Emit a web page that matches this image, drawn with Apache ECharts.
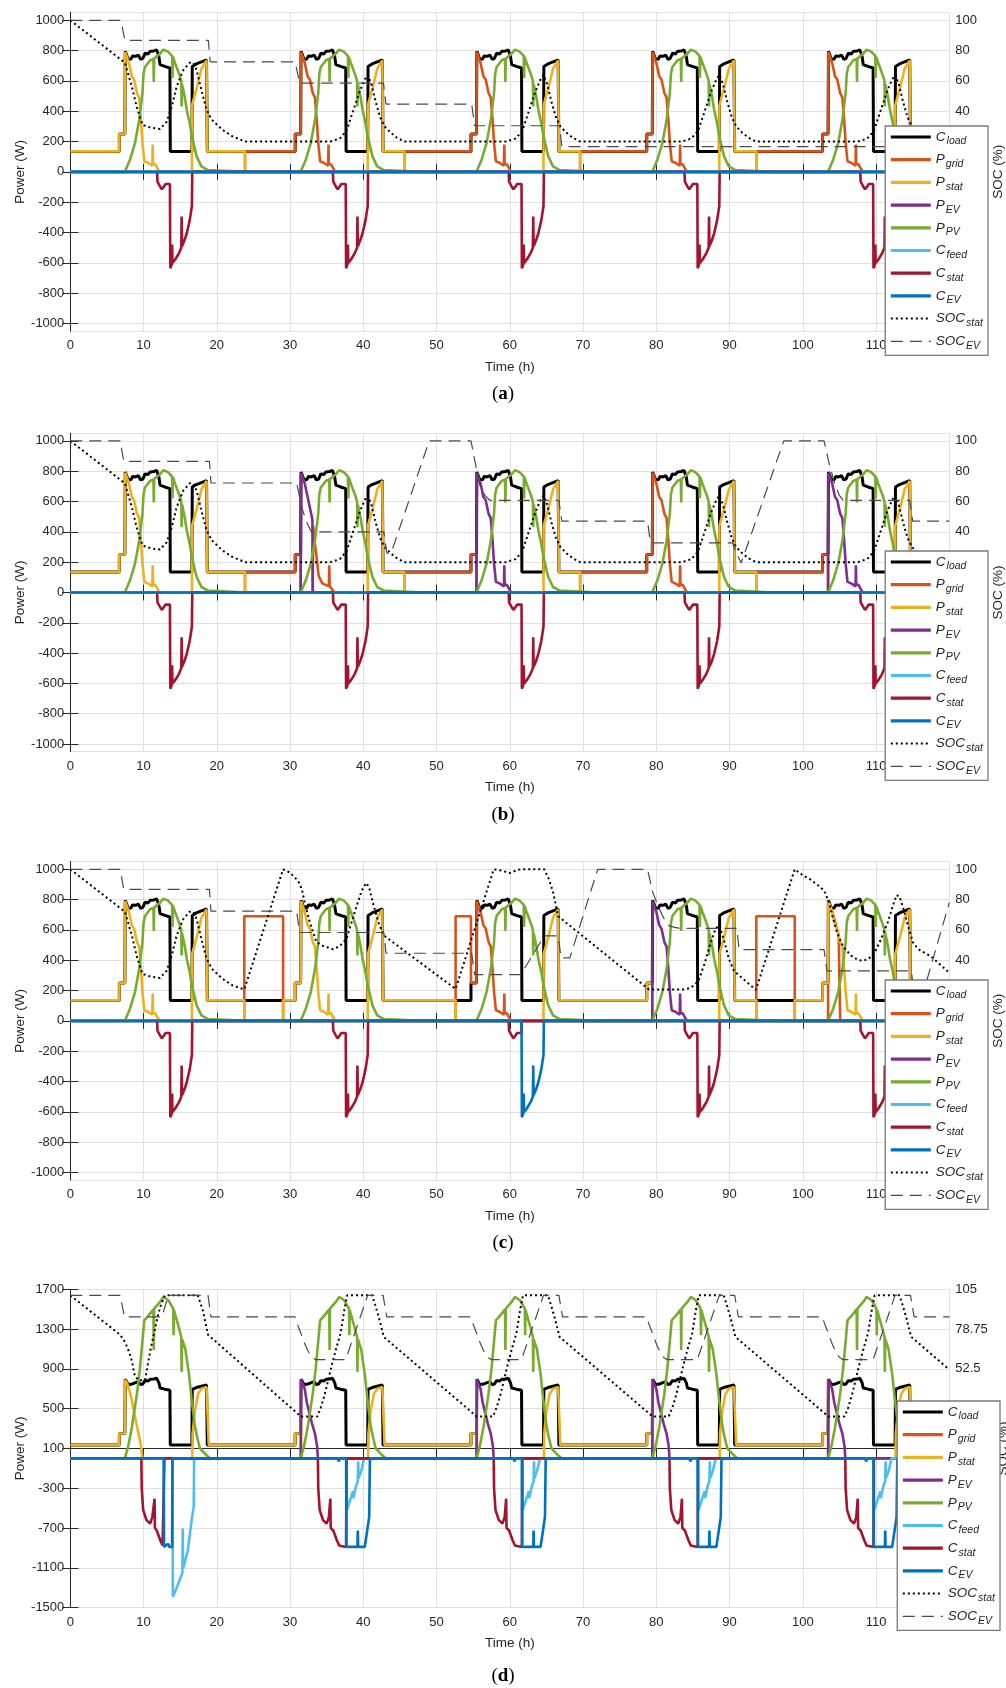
<!DOCTYPE html>
<html>
<head>
<meta charset="utf-8">
<script src="https://cdn.jsdelivr.net/npm/echarts@6/dist/echarts.min.js"></script>
<style>
  html, body { margin: 0; padding: 0; background: #fff; }
  #chart { width: 1006px; height: 1688px; }
</style>
</head>
<body>
<div id="chart"></div>
<script>
// ---------------- data ----------------
const seriesNames = ['C_load', 'P_grid', 'P_stat', 'P_EV', 'P_PV', 'C_feed', 'C_stat', 'C_EV', 'SOC_stat', 'SOC_EV'];
const panelLetters = ['a', 'b', 'c', 'd'];
const DAYS = [0, 1, 2, 3, 4];
const NIGHT_LOAD = 135;   // W
const GRID_CHARGE = 690;  // W, night charging in (c)

// one-day pieces, [hour of day, W]
const loadDay = [[0,135],[6.7,135],[6.7,250],[7.45,250],[7.5,795],[7.7,770],[7.9,742],[8.3,745],[8.5,765],[8.9,762],[9.3,770],[9.6,742],[9.9,748],[10.2,782],[10.6,778],[10.9,795],[11.4,798],[11.8,805],[12.05,800],[12.1,760],[12.25,708],[12.9,696],[13.6,685],[13.65,135],[16.6,135],[16.65,695],[17.2,712],[17.9,725],[18.6,738],[18.7,135],[24,135]];
const pvDayAC = [[0,0],[7.45,0],[8.15,80],[8.83,190],[9.4,340],[9.85,520],[10.0,648],[10.2,692],[10.9,736],[11.35,745],[11.4,593],[11.45,748],[12.25,780],[12.7,806],[13.3,795],[13.9,765],[13.95,620],[14.0,760],[14.3,718],[14.9,640],[15.15,600],[15.2,432],[15.25,580],[15.6,500],[15.9,410],[16.3,320],[16.6,234],[17.25,102],[17.9,36],[18.8,12],[19.0,0],[24,0]];
const pvDayD = [[0,0],[7.45,0],[7.9,120],[8.4,310],[9.1,651],[9.5,900],[9.9,1221],[10.1,1388],[10.7,1438],[11.35,1500],[11.4,1090],[11.45,1505],[11.6,1522],[12.25,1573],[12.7,1623],[13.4,1590],[14.05,1506],[14.1,1237],[14.15,1490],[14.8,1321],[15.15,1221],[15.2,869],[15.25,1200],[15.7,1100],[16.2,850],[16.55,600],[17.0,330],[17.3,220],[17.7,100],[18.4,45],[19.1,0],[24,0]];

const dawnStep = [[6.7,135],[6.7,250],[7.45,250]];
const dawnOff = [[7.45,250],[7.45,0]];
const morningAC = [[7.45,250],[7.5,790],[8.0,720],[8.4,630],[8.7,610],[9.1,520],[9.4,490],[9.65,340],[9.85,190],[10.1,70],[10.6,60],[11.2,40],[11.25,180],[11.3,50],[11.6,50],[12.0,15],[12.2,0]];
const eveningAC = [[16.6,0],[16.62,440],[17.3,560],[17.9,680],[18.6,735],[18.7,135]];
const storeHeadAC = [[11.85,0],[11.9,-65],[12.3,-100],[12.5,-115],[12.8,-95],[13.0,-80],[13.6,-80],[13.6,0]];
const storeTailAC = [[13.6,0],[13.65,-636],[13.85,-610],[13.9,-480],[13.95,-600],[14.3,-580],[14.8,-540],[15.15,-500],[15.2,-295],[15.25,-490],[15.6,-450],[15.9,-405],[16.3,-320],[16.6,-225],[16.65,0]];
const evHeadB = [[7.45,0],[7.5,790],[8.0,720],[8.4,630],[8.7,560],[9.05,480],[9.1,0]];
const gridTailB = [[9.1,0],[9.15,440],[9.4,320],[9.7,200],[9.9,110],[10.4,60],[11.3,40],[11.35,180],[11.4,45],[11.8,15],[12.1,0]];
const gridSpikeC = [[7.45,0],[7.45,790],[7.9,740],[8.4,655],[8.9,565],[9.1,0]];
const preDawnGridC = [[52.6,0],[52.6,690],[54.7,690],[54.7,250],[55.45,250]];

const morningD1 = [[7.45,250],[7.5,790],[7.8,750],[8.3,620],[8.75,450],[9.2,285],[9.6,150],[9.8,35],[9.9,0]];
const dawnSpikeD = [[6.7,135],[6.7,250],[7.45,250],[7.45,790],[7.55,790],[7.55,0]];
const morningEvD = [[7.45,0],[7.5,790],[7.6,785],[8.0,700],[8.3,560],[8.6,470],[9.0,350],[9.4,250],[9.7,120],[9.8,0]];
const eveningD = [[16.65,0],[16.7,250],[17.0,480],[17.45,650],[17.9,700],[18.6,718],[18.85,725],[18.9,135]];
const storeD1 = [[9.7,0],[9.75,-300],[9.95,-520],[10.4,-620],[10.9,-655],[11.2,-590],[11.45,-600],[11.5,-405],[11.55,-700],[11.8,-725],[12.3,-825],[12.6,-875],[12.8,-890],[12.85,0]];
const storeD2 = [[9.8,0],[9.85,-300],[10.05,-520],[10.5,-620],[11.0,-655],[11.3,-590],[11.45,-600],[11.5,-405],[11.55,-700],[11.9,-725],[12.4,-825],[12.7,-875],[12.9,-890],[13.65,-890],[13.7,0]];
const evD1 = [[12.75,0],[12.8,-890],[13.1,-870],[13.2,-890],[13.4,-860],[13.5,-890],[13.9,-890],[13.95,0]];
const evD2 = [[12.5,0],[12.65,-30],[12.8,0],[13.65,0],[13.7,-890],[15.2,-890],[15.25,-725],[15.3,-890],[16.2,-890],[16.4,-790],[16.8,-590],[16.9,0]];
const feedD1 = [[13.95,0],[14.0,-1390],[14.2,-1358],[14.65,-1275],[15.1,-1190],[15.3,-1150],[15.35,-706],[15.4,-1105],[15.6,-1100],[16.05,-925],[16.5,-656],[16.85,-480],[16.9,0]];
const feedD2 = [[13.7,0],[13.75,-520],[14.2,-420],[14.6,-330],[14.65,-400],[15.0,-280],[15.25,-230],[15.3,-30],[15.35,-200],[15.7,-130],[16.0,-40],[16.1,0]];

// hour at which the stationary battery runs empty each night, panels a/b
const nightEmptyAB = [23.85, 45.6, 69.6, 93.65, 117.6];

// state of charge, %
const socStatDay1AB = [[0,100],[7.45,72],[8.4,56.4],[9.05,43],[9.85,31],[11.1,29],[12.25,28.3],[13.15,33],[13.85,43],[14.5,56],[15.4,67],[16.3,72],[16.8,72],[17.25,67],[17.9,54],[18.6,41],[19.3,34.5],[20.7,28],[22.1,23.5],[23.85,20]];
const socStatDayAB = [[11.5,20],[12.8,22],[13.7,27],[14.6,40],[15.5,53],[16.2,61],[16.6,64],[17.1,58],[17.7,46],[18.3,36],[18.9,30],[19.7,26],[20.6,22.5],[21.6,20]];
const socEvA = [[0,100],[6.9,100],[7.45,86.8],[18.85,86.8],[19.1,72.5],[30.7,72.5],[31.3,58.6],[42.75,58.6],[43.1,44.7],[54.8,44.7],[55.2,30.4],[66.8,30.4],[67.1,16.7],[120,16.7]];
const socEvB = [[0,100],[6.8,100],[7.3,86.5],[19.0,86.5],[19.2,72.2],[30.9,72.2],[31.3,63],[31.8,53],[32.4,45],[32.9,40],[42.8,40],[43.2,26],[43.8,26],[49.0,100],[54.7,100],[55.3,85],[55.9,71],[56.6,64],[57.3,60.7],[66.7,60.7],[67.1,47],[78.8,47],[79.2,32.7],[90.4,32.7],[90.9,26],[91.6,19.5],[97.4,100],[102.9,100],[103.6,85],[104.4,71],[105.0,64],[105.5,60.7],[114.6,60.7],[115.0,47],[120,47]];
const socStatC = [[0,100],[7.45,72],[8.4,56.4],[9.05,43],[9.85,31],[11.1,29],[12.25,28.3],[13.15,33],[13.85,43],[14.5,56],[15.4,67],[16.3,72],[16.8,72],[17.25,67],[17.9,54],[18.6,41],[19.3,34.5],[20.7,28],[22.1,23.5],[23.75,20.7],[29.05,100],[30.0,97.8],[31.1,92.3],[31.6,87],[32.0,78],[32.7,65],[33.6,52],[34.5,49.4],[35.9,47.2],[36.8,49.4],[37.7,54],[38.4,65],[39.1,76],[39.8,86],[40.4,91],[40.8,88],[41.3,78],[42.2,63],[42.9,56],[52.6,21],[57.8,100],[59.0,99],[60.0,97.5],[61.0,99.5],[61.5,100],[64.7,100],[65.3,94],[65.9,85],[66.6,69],[79.0,20.7],[83.6,20.7],[84.5,21.5],[85.2,23.5],[85.8,27],[86.6,38],[87.4,51],[88.1,61],[88.6,63],[89.2,54],[89.9,41],[90.6,33],[91.3,30],[93.6,20.5],[98.9,100],[100.0,96],[101.0,93.4],[102.2,89],[102.9,86],[103.6,78],[104.1,68],[104.7,58],[105.5,49],[106.6,43],[107.4,40.5],[108.2,39.5],[109.0,41],[109.8,45],[110.6,53],[111.6,65],[112.3,76],[112.8,83],[113.2,82],[113.8,73],[114.4,62],[115.1,51],[116.0,46.5],[117.5,42.5],[120,31.7]];
const socEvC = [[0,100],[6.8,100],[7.3,86.8],[19.0,86.8],[19.2,72.4],[30.9,72.4],[31.3,58.3],[42.8,58.3],[43.1,44.6],[54.8,44.6],[55.2,30.5],[61.5,30.5],[64.7,56],[66.6,56],[67.0,41.6],[68.2,41.6],[72.0,100],[78.8,100],[79.5,85],[80.4,74],[81.2,66],[81.8,62.5],[83.2,61],[91.0,61],[91.3,47],[102.9,47],[103.3,33],[114.8,33],[115.2,19.5],[116.5,19.5],[120,78]];
const socStatD1 = [[0,101],[6.8,75],[7.5,70],[8.0,64],[8.4,58],[8.8,48],[9.3,45],[10.2,45],[10.9,64],[11.6,80],[12.25,93],[12.9,101],[17.4,101],[18.1,91],[18.8,75]];
const socStatDayD = [[7.5,21],[9.7,21],[10.2,27],[10.7,35],[11.1,43],[11.7,55],[12.3,66],[12.9,76],[13.4,91],[13.8,101],[17.2,101],[17.6,95],[18.1,86.8],[18.8,73.6]];
const socStatEndD = [[120,52]];
const socEvD1 = [[0,101],[6.8,101],[7.4,86.8],[12.5,86.8],[13.4,101],[18.8,101],[19.2,86.8]];
const socEvDayD = [[6.65,86.8],[7.0,82],[7.5,75.7],[8.0,69],[8.4,64.8],[9.0,60],[9.5,58.6],[13.6,58.6],[16.6,101],[18.7,101],[19.2,86.8]];
const socEvEndD = [[120,86.8]];

// ---------------- assembling ----------------
function at(day, block) { return block.map(p => [p[0] + 24 * day, p[1]]); }
function everyDay(block) { return [].concat(...DAYS.map(d => at(d, block))); }
function on(t, w) { return [[t, 0], [t, w]]; }
function off(t, w) { return [[t, w], [t, 0]]; }
function rect(t0, t1, w) { return [[t0, 0], [t0, w], [t1, w], [t1, 0]]; }
function fromZero(block) { return [[block[0][0], 0]].concat(block); }
function cat() { return [].concat(...arguments); }
const flat0 = [[0, 0], [120, 0]];
const storeAC = storeHeadAC.slice(0, -1).concat(storeTailAC.slice(1));

const loadAll = everyDay(loadDay);

// panel a
const statA = cat([[0, NIGHT_LOAD]], at(0, dawnStep), at(0, morningAC),
  ...DAYS.map(d => cat(at(d, eveningAC), off(nightEmptyAB[d], NIGHT_LOAD))));
const gridA = cat([[0, 0]],
  ...[1, 2, 3, 4].map(d => cat(on(nightEmptyAB[d - 1], NIGHT_LOAD), at(d, dawnStep), at(d, morningAC))),
  on(nightEmptyAB[4], NIGHT_LOAD), [[120, NIGHT_LOAD]]);
const socStatAB = cat(socStatDay1AB, ...[1, 2, 3, 4].map(d => at(d, socStatDayAB)), [[120, 20]]);

// panel b
const gridB = cat([[0, 0]],
  on(nightEmptyAB[0], NIGHT_LOAD), at(1, dawnStep), at(1, dawnOff), at(1, gridTailB),
  on(nightEmptyAB[1], NIGHT_LOAD), at(2, dawnStep), at(2, dawnOff),
  on(nightEmptyAB[2], NIGHT_LOAD), at(3, dawnStep), at(3, morningAC),
  on(nightEmptyAB[3], NIGHT_LOAD), at(4, dawnStep), at(4, dawnOff),
  on(nightEmptyAB[4], NIGHT_LOAD), [[120, NIGHT_LOAD]]);
const evB = cat([[0, 0]], at(1, evHeadB), at(2, fromZero(morningAC)), at(4, fromZero(morningAC)), [[120, 0]]);

// panel c
const statC = cat([[0, NIGHT_LOAD]], at(0, dawnStep), at(0, morningAC), at(0, eveningAC),
  off(23.75, NIGHT_LOAD), on(29.05, NIGHT_LOAD), at(1, dawnStep), at(1, morningAC), at(1, eveningAC),
  off(52.6, NIGHT_LOAD), at(2, eveningAC), at(3, dawnStep), at(3, dawnOff), at(3, eveningAC),
  off(93.65, NIGHT_LOAD), on(98.9, NIGHT_LOAD), at(4, dawnStep), at(4, morningAC), at(4, eveningAC),
  [[120, NIGHT_LOAD]]);
const gridC = cat([[0, 0]], rect(23.75, 29.05, GRID_CHARGE), preDawnGridC, at(2, morningAC),
  rect(93.65, 98.9, GRID_CHARGE), at(4, gridSpikeC), [[120, 0]]);
const evC = cat([[0, 0]], at(3, fromZero(morningAC)), [[120, 0]]);
const storeC = cat(at(0, storeAC), at(1, storeAC), at(2, storeHeadAC), at(3, storeAC), at(4, storeAC));
const cEvC = cat([[0, 0]], at(2, storeTailAC), [[120, 0]]);

// panel d
const statD = cat([[0, NIGHT_LOAD]], at(0, dawnStep), at(0, morningD1), at(0, eveningD),
  ...[1, 2, 3, 4].map(d => cat(at(d, dawnSpikeD), at(d, eveningD))), [[120, NIGHT_LOAD]]);
const evD = cat([[0, 0]], ...[1, 2, 3, 4].map(d => at(d, morningEvD)), [[120, 0]]);
const feedD = cat([[0, 0]], at(0, feedD1), ...[1, 2, 3, 4].map(d => at(d, feedD2)), [[120, 0]]);
const storeD = cat(at(0, storeD1), ...[1, 2, 3, 4].map(d => at(d, storeD2)));
const cEvD = cat([[0, 0]], at(0, evD1), ...[1, 2, 3, 4].map(d => at(d, evD2)), [[120, 0]]);
const socStatD = cat(socStatD1, ...[1, 2, 3, 4].map(d => at(d, socStatDayD)), socStatEndD);
const socEvD = cat(socEvD1, ...[1, 2, 3, 4].map(d => at(d, socEvDayD)), socEvEndD);

// series order as in legend
const panelData = [
  [loadAll, gridA, statA, flat0, everyDay(pvDayAC), flat0, everyDay(storeAC), flat0, socStatAB, socEvA],
  [loadAll, gridB, statA, evB, everyDay(pvDayAC), flat0, everyDay(storeAC), flat0, socStatAB, socEvB],
  [loadAll, gridC, statC, evC, everyDay(pvDayAC), flat0, storeC, cEvC, socStatC, socEvC],
  [loadAll, flat0, statD, evD, everyDay(pvDayD), feedD, storeD, cEvD, socStatD, socEvD]
];

// ---------------- chart ----------------
const FONT = 'Arial, "Liberation Sans", Helvetica, sans-serif';
const INK = '#262626';
const colors = ['#000000', '#D95319', '#EDB120', '#7E2F8E', '#77AC30', '#4DBEEE', '#A2142F', '#0072BD', '#000000', '#4a4a4a'];
const lineStyles = seriesNames.map((n, k) =>
  k === 8 ? { color: colors[k], width: 2, type: [2, 3] } :
  k === 9 ? { color: colors[k], width: 1.2, type: [12, 7] } :
            { color: colors[k], width: k === 0 ? 3 : 2.6 });
const panelTop = [12.7, 433.3, 861.7, 1289.3];
const plotH = 318.3;
const powerAxis = [
  { min: -1050, max: 1050, splitNumber: 10 },
  { min: -1050, max: 1050, splitNumber: 10 },
  { min: -1050, max: 1050, splitNumber: 10 },
  { min: -1500, max: 1700, interval: 400 }
];
const socAxis = [
  { min: -105, max: 105, splitNumber: 10, nameGap: 42 },
  { min: -105, max: 105, splitNumber: 10, nameGap: 42 },
  { min: -105, max: 105, splitNumber: 10, nameGap: 42 },
  { min: -105, max: 105, interval: 26.25, nameGap: 47 }
];
const legendPos = [[126, 18], [551, 18], [980, 18], [1401, 6]];
const letterY = [394, 815, 1243, 1676];

const tickStyle = { show: true, inside: true, length: 8, lineStyle: { color: INK, width: 1 } };
const lineAx = { show: true, lineStyle: { color: INK, width: 1 } };
const labelStyle = { color: INK, fontSize: 13, fontFamily: FONT, formatter: v => String(v) };
const nameStyle = { color: INK, fontSize: 13.5, fontFamily: FONT };

const grid = [], xAxis = [], yAxis = [], legend = [], series = [], graphic = [];
panelTop.forEach((top, i) => {
  grid.push({ left: 70.3, top: top, width: 879, height: plotH, outerBoundsMode: 'none', containLabel: false });
  xAxis.push({
    gridIndex: i, type: 'value', min: 0, max: 120, interval: 10,
    axisLine: lineAx, axisTick: tickStyle,
    axisLabel: Object.assign({ margin: 8 }, labelStyle),
    splitLine: { show: true, lineStyle: { color: '#e0e0e0', width: 1 } },
    name: 'Time (h)', nameLocation: 'middle', nameGap: 29, nameMoveOverlap: false,
    nameTextStyle: nameStyle
  });
  xAxis.push({
    gridIndex: i, type: 'value', min: 0, max: 120, interval: 10, position: 'top',
    axisLine: lineAx, axisTick: tickStyle, axisLabel: { show: false }, splitLine: { show: false }
  });
  yAxis.push(Object.assign({
    gridIndex: i, type: 'value', position: 'left',
    axisLine: lineAx, axisTick: tickStyle,
    axisLabel: Object.assign({ margin: 6, showMinLabel: i === 3, showMaxLabel: i === 3 }, labelStyle),
    splitLine: { show: true, lineStyle: { color: '#e0e0e0', width: 1 } },
    name: 'Power (W)', nameLocation: 'middle', nameGap: 43, nameMoveOverlap: false,
    nameTextStyle: nameStyle
  }, powerAxis[i]));
  const s = socAxis[i];
  yAxis.push({
    gridIndex: i, type: 'value', position: 'right', min: s.min, max: s.max,
    splitNumber: s.splitNumber, interval: s.interval,
    axisLine: lineAx, axisTick: tickStyle,
    axisLabel: Object.assign({ margin: 6, showMinLabel: i === 3, showMaxLabel: i === 3 }, labelStyle),
    splitLine: { show: false },
    name: 'SOC (%)', nameLocation: 'middle', nameGap: s.nameGap, nameRotate: 90, nameMoveOverlap: false,
    nameTextStyle: nameStyle
  });
  legend.push({
    top: legendPos[i][0], right: legendPos[i][1], orient: 'vertical',
    data: seriesNames.map((n, k) => ({ name: n, lineStyle: Object.assign({}, lineStyles[k], { width: k === 9 ? 1.2 : (k === 8 ? 2 : 3.2) }) })),
    itemWidth: 40, itemHeight: 12, itemGap: 5.7, itemTextGap: 7,
    padding: [4, 5, 4, 4], backgroundColor: '#ffffff',
    borderColor: '#7a7a7a', borderWidth: 1.3, borderRadius: 0,
    selectedMode: false,
    itemStyle: { opacity: 0, color: 'transparent', borderWidth: 0 },
    formatter: name => { const p = name.split('_'); return '{m|' + p[0] + '}{s|' + p[1] + '}'; },
    textStyle: {
      color: INK,
      rich: {
        m: { fontSize: 13.5, fontStyle: 'italic', fontFamily: FONT, color: INK },
        s: { fontSize: 10.5, fontStyle: 'italic', fontFamily: FONT, color: INK, padding: [9, 0, 0, 1] }
      }
    }
  });
  graphic.push({
    type: 'text', left: 'center', top: letterY[i] - 9,
    style: {
      text: '{p|(}{b|' + panelLetters[i] + '}{p|)}',
      rich: {
        p: { fontSize: 19, fontFamily: '"Liberation Serif", "DejaVu Serif", serif', fill: '#000' },
        b: { fontSize: 19, fontWeight: 'bold', fontFamily: '"Liberation Serif", "DejaVu Serif", serif', fill: '#000' }
      }
    }
  });
  seriesNames.forEach((name, k) => {
    series.push({
      name: name, type: 'line', xAxisIndex: 2 * i, yAxisIndex: k >= 8 ? 2 * i + 1 : 2 * i,
      data: panelData[i][k], showSymbol: false, symbol: 'none', clip: true,
      itemStyle: { color: colors[k] }, lineStyle: lineStyles[k], emphasis: { disabled: true }
    });
  });
});

const chart = echarts.init(document.getElementById('chart'), null, { renderer: 'canvas' });
chart.setOption({
  animation: false,
  backgroundColor: '#ffffff',
  grid, xAxis, yAxis, legend, series, graphic
});
</script>
</body>
</html>
